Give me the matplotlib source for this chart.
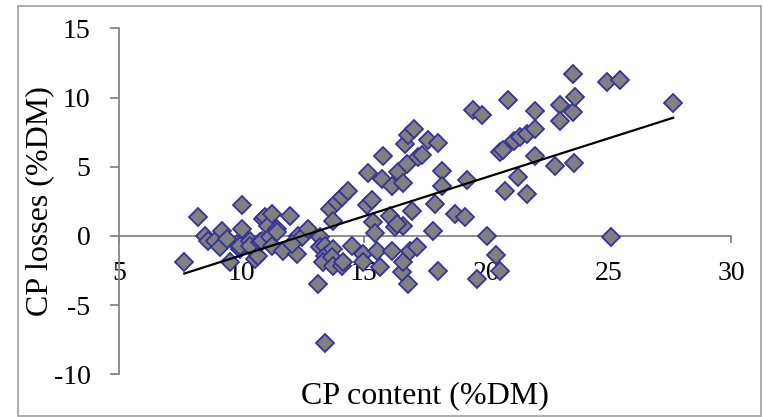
import numpy as np
import matplotlib
matplotlib.use("Agg")
from matplotlib import pyplot as plt
from matplotlib.patches import Rectangle

# CP content (%DM) vs CP losses (%DM)
cp_content = [7.67, 8.21, 8.51, 8.65, 8.92, 9.13, 9.20, 9.53, 9.81, 9.94,
              10.01, 10.01, 9.94, 10.35, 10.35, 10.56, 10.69, 10.76, 10.83, 10.89,
              10.96, 11.10, 11.24, 11.17, 11.24, 11.44, 11.44, 11.71, 11.99, 12.26,
              12.32, 12.46, 12.73, 13.21, 13.21, 13.42, 13.42, 13.35, 13.14, 13.62,
              13.89, 13.75, 13.69, 13.75, 13.75, 13.42, 14.10, 14.10, 14.37, 14.16,
              14.51, 14.98, 14.98, 15.12, 15.32, 15.39, 15.53, 15.66, 15.18, 15.73,
              15.80, 16.07, 16.14, 16.14, 16.27, 16.41, 16.55, 16.61, 16.61, 16.62,
              16.68, 16.75, 16.82, 16.82, 16.88, 16.95, 17.06, 17.16, 17.23, 17.37,
              17.63, 17.84, 17.91, 18.04, 18.04, 18.18, 18.18, 18.73, 19.13, 19.23,
              19.47, 19.82, 19.64, 20.02, 20.40, 20.56, 20.56, 20.70, 20.77, 20.90,
              21.15, 21.31, 21.38, 21.65, 21.65, 21.99, 21.99, 21.99, 22.81, 23.01,
              23.01, 23.56, 23.56, 23.59, 23.63, 24.92, 25.47, 25.09, 27.64, 16.34,
              15.45, 12.05, 9.40]
cp_losses = [-1.91, 1.35, 0.02, -0.34, -0.34, -0.83, 0.38, -1.91, -0.58, -0.94,
             2.20, 0.51, -0.70, -0.34, -0.70, -1.67, -1.43, -0.46, -0.34, 1.23,
             1.35, 0.75, 1.59, -0.10, -0.70, 0.51, 0.26, -1.07, 1.47, -1.30,
             0.02, -0.10, 0.51, -0.10, -0.83, -0.70, -1.43, -1.91, -3.48, 1.96,
             2.43, -0.94, -1.55, -2.15, 1.11, -7.71, -2.15, 2.80, 3.28, -1.91,
             -0.70, -1.30, -1.91, 2.20, 2.56, 0.99, -1.07, -2.27, 4.54, 4.13,
             5.77, 1.47, -1.07, 3.57, 0.62, 4.61, -2.64, -1.91, 3.81, 0.75,
             6.67, 5.22, 7.27, -3.48, -1.07, 1.83, 7.75, -0.83, 5.70, 5.82,
             6.96, 0.38, 2.32, 6.71, -2.51, 4.66, 3.57, 1.59, 1.35, 4.01,
             9.08, 8.72, -3.12, 0.02, -1.36, -2.57, 6.06, 6.18, 3.23, 9.80,
             6.86, 4.25, 7.14, 7.39, 3.04, 9.03, 7.75, 5.75, 5.02, 9.44,
             8.30, 11.69, 8.96, 5.26, 10.04, 11.13, 11.30, -0.10, 9.61, 0.87,
             0.20, -0.60, -0.20]

# linear trend line as drawn in the picture
trend_slope = 0.5636
trend_intercept = -7.04

x_ticks = [5, 10, 15, 20, 25, 30]
y_ticks = [-10, -5, 0, 5, 10, 15]

plt.rcParams['font.family'] = ['Liberation Serif', 'DejaVu Serif']
plt.rcParams['axes.unicode_minus'] = False
fs = 20      # tick labels
fs_lab = 23  # axis titles
axis_grey = '#868686'

fig = plt.figure(figsize=(7.63, 4.17), dpi=100)
ax = fig.add_axes([119/763, 1 - 374.3/417, (731 - 119)/763, (374.3 - 28.3)/417])

ax.plot(cp_content, cp_losses, linestyle='none', marker='D', markersize=9.6,
        markerfacecolor='#808080', markeredgecolor='#333399', markeredgewidth=1.3,
        zorder=3)

xs = np.array([min(cp_content), max(cp_content)])
ax.plot(xs, trend_slope*xs + trend_intercept, color='black', linewidth=1.6, zorder=4)

ax.set_xlim(5, 30)
ax.set_ylim(-10, 15)
ax.set_xticks(x_ticks)
ax.set_yticks(y_ticks)

ax.spines['right'].set_visible(False)
ax.spines['top'].set_visible(False)
ax.spines['bottom'].set_position(('data', 0))
for sp in ['left', 'bottom']:
    ax.spines[sp].set_color(axis_grey)
    ax.spines[sp].set_linewidth(1.3)
ax.tick_params(axis='both', colors=axis_grey, labelcolor='black', labelsize=fs,
               direction='out', width=1.3)
ax.tick_params(axis='x', length=5, pad=13)
ax.tick_params(axis='y', length=6.5, pad=14)

ax.set_xlabel('CP content (%DM)', fontsize=fs_lab)
ax.xaxis.set_label_coords(0.5, -0.02)
ax.set_ylabel('CP losses (%DM)', fontsize=fs_lab)
ax.yaxis.set_label_coords(-0.106, 0.5)

# outer frame of the chart area
fig.patches.append(Rectangle((18/763, 0.002), (762 - 18)/763 - 0.001, 1 - 6/417 - 0.002,
                             transform=fig.transFigure, fill=False,
                             edgecolor='#a0a0a0', linewidth=1.2))

fig.savefig('out.png', dpi=100)
